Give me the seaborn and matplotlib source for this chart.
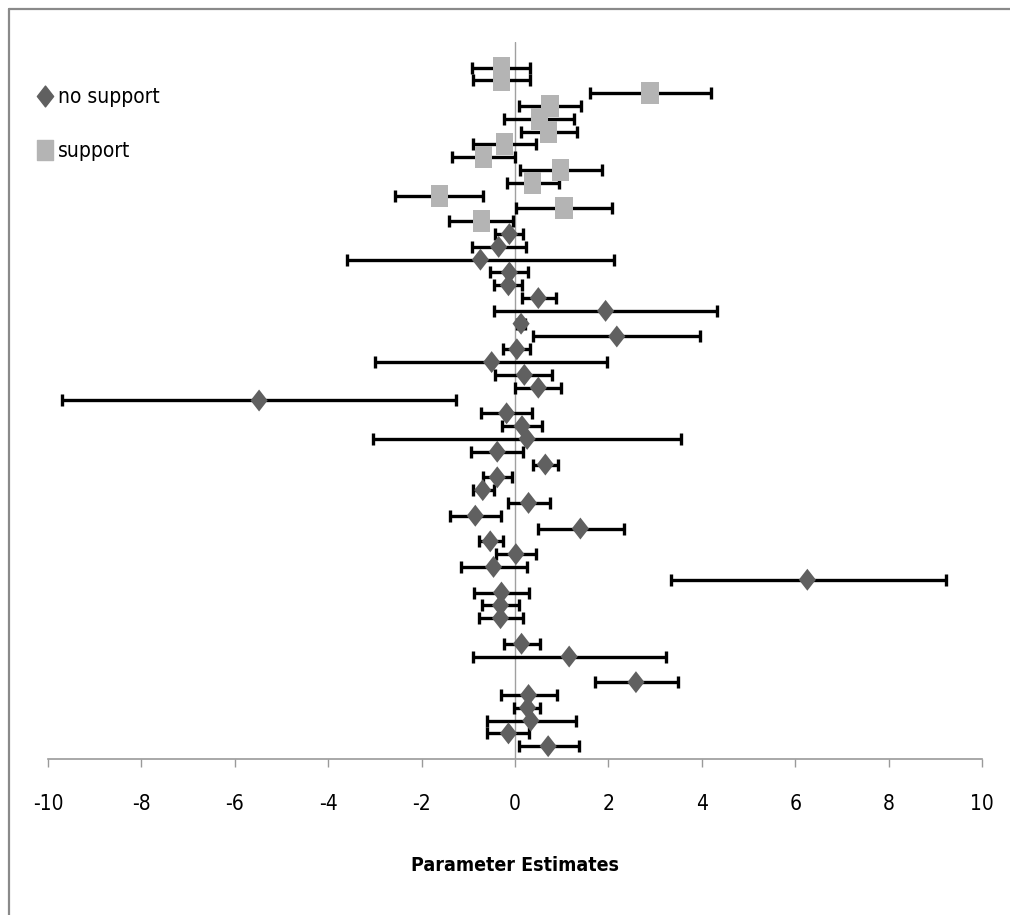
import numpy as np
import pandas as pd
import matplotlib
matplotlib.use("Agg")
import matplotlib.pyplot as plt
from matplotlib.path import Path
from matplotlib.lines import Line2D
import seaborn as sns

# Parameter estimates with lower / upper interval bounds, top to bottom
support_est = [-0.29, -0.29, 2.89, 0.75, 0.53, 0.72, -0.23, -0.68, 0.97, 0.38, -1.62, 1.05, -0.72]
support_lo = [-0.93, -0.89, 1.60, 0.08, -0.23, 0.13, -0.89, -1.34, 0.11, -0.18, -2.56, 0.02, -1.42]
support_hi = [0.32, 0.32, 4.19, 1.41, 1.27, 1.32, 0.45, -0.01, 1.86, 0.95, -0.68, 2.07, -0.04]

nan = np.nan
nosupport_est = [-0.12, -0.35, -0.74, -0.12, -0.14, 0.50, 1.94, 0.13, 2.18, 0.04,
                 -0.50, 0.20, 0.50, -5.48, -0.18, 0.15, 0.26, -0.38, 0.65, -0.38,
                 -0.69, 0.29, -0.85, 1.40, -0.53, 0.02, -0.46, 6.26, -0.29, -0.31,
                 -0.31, nan, 0.14, 1.16, nan, 2.59, 0.29, 0.27, 0.34, -0.14, 0.71]
nosupport_lo = [-0.42, -0.92, -3.59, -0.54, -0.46, 0.14, -0.44, 0.05, 0.39, -0.25,
                -2.99, -0.42, 0.01, -9.70, -0.72, -0.27, -3.04, -0.94, 0.39, -0.68,
                -0.91, -0.16, -1.40, 0.49, -0.78, -0.41, -1.15, 3.35, -0.87, -0.71,
                -0.78, nan, -0.23, -0.89, nan, 1.72, -0.31, -0.02, -0.61, -0.59, 0.08]
nosupport_hi = [0.18, 0.24, 2.11, 0.28, 0.15, 0.88, 4.32, 0.21, 3.96, 0.33,
                1.96, 0.79, 0.99, -1.26, 0.36, 0.58, 3.56, 0.18, 0.93, -0.06,
                -0.46, 0.75, -0.29, 2.33, -0.26, 0.45, 0.26, 9.22, 0.31, 0.08,
                0.18, nan, 0.54, 3.24, nan, 3.49, 0.90, 0.54, 1.31, 0.31, 1.36]

group_names = ["no support", "support"]
x_ticks = [-10, -8, -6, -4, -2, 0, 2, 4, 6, 8, 10]
x_label = "Parameter Estimates"

# Build a long table; rows are stacked top to bottom, support first
n_sup = len(support_est)
rows_sup = np.arange(n_sup) + 2
rows_nos = np.arange(len(nosupport_est)) + 2 + n_sup
df = pd.concat([
    pd.DataFrame({"row": rows_sup, "est": support_est, "lo": support_lo,
                  "hi": support_hi, "group": "support"}),
    pd.DataFrame({"row": rows_nos, "est": nosupport_est, "lo": nosupport_lo,
                  "hi": nosupport_hi, "group": "no support"}),
]).dropna()

sns.set_theme(style="white")
plt.rcParams["font.family"] = ["DejaVu Sans"]
plt.rcParams["font.stretch"] = "condensed"
plt.rcParams["text.color"] = "black"

fig = plt.figure(figsize=(10.10, 9.15), dpi=100)
W, H = 1010, 915
ax = fig.add_axes([48 / W, 1 - 759 / H, (982 - 48) / W, (759 - 42) / H])

# Slightly tall markers: a diamond and a block
diamond = Path([(0, 1), (0.78, 0), (0, -1), (-0.78, 0), (0, 1)],
               [Path.MOVETO, Path.LINETO, Path.LINETO, Path.LINETO, Path.CLOSEPOLY])
block = Path([(-0.78, -1), (0.78, -1), (0.78, 1), (-0.78, 1), (-0.78, -1)],
             [Path.MOVETO, Path.LINETO, Path.LINETO, Path.LINETO, Path.CLOSEPOLY])
colors = {"no support": "#606060", "support": "#b4b4b4"}
markers = {"no support": diamond, "support": block}

ax.axvline(0, color="#a0a0a0", lw=1.0, zorder=1)

for g in group_names:
    d = df[df["group"] == g]
    ax.errorbar(d["est"], d["row"],
                xerr=[d["est"] - d["lo"], d["hi"] - d["est"]],
                fmt="none", ecolor="black", elinewidth=2.4, capsize=4.5,
                capthick=2.4, zorder=2)
for g in ["support", "no support"]:
    d = df[df["group"] == g]
    sns.scatterplot(data=d, x="est", y="row", ax=ax, marker=markers[g],
                    color=colors[g], s=250, edgecolor="none", linewidth=0,
                    zorder=3, legend=False)

ax.set_xlim(-10, 10)
ax.set_ylim(56, 0)
ax.set_yticks([])
ax.set_ylabel("")
ax.set_xticks(x_ticks)
ax.set_xticklabels([str(t) for t in x_ticks], fontsize=15, color="black")
ax.tick_params(axis="x", direction="out", length=6, width=1, color="#9a9a9a",
               pad=19, labelcolor="black", bottom=True)
for side in ["top", "left", "right"]:
    ax.spines[side].set_visible(False)
ax.spines["bottom"].set_color("#9a9a9a")
ax.spines["bottom"].set_linewidth(1.2)

ax.set_xlabel(x_label, fontsize=14, fontweight="bold", color="black")
ax.xaxis.set_label_coords(0.5, (759 - 856) / (759 - 42))

handles = [Line2D([], [], linestyle="none", marker=markers[g], color=colors[g],
                  markersize=15) for g in group_names]
leg = ax.legend(handles, group_names, loc="upper left",
                bbox_to_anchor=(38 / W, 1 - 87 / H), bbox_transform=fig.transFigure,
                frameon=False, fontsize=15, handlelength=0.7, handletextpad=0.25,
                labelspacing=1.65, borderaxespad=0, borderpad=0)
for t in leg.get_texts():
    t.set_color("black")

# Chart frame: left and top edges
fig.add_artist(Line2D([8.5 / W, 8.5 / W], [0, 1 - 8.5 / H], transform=fig.transFigure,
                      color="#8a8a8a", lw=1.6))
fig.add_artist(Line2D([8.5 / W, 1], [1 - 8.5 / H, 1 - 8.5 / H], transform=fig.transFigure,
                      color="#8a8a8a", lw=1.6))

fig.savefig("out.png", dpi=100)
